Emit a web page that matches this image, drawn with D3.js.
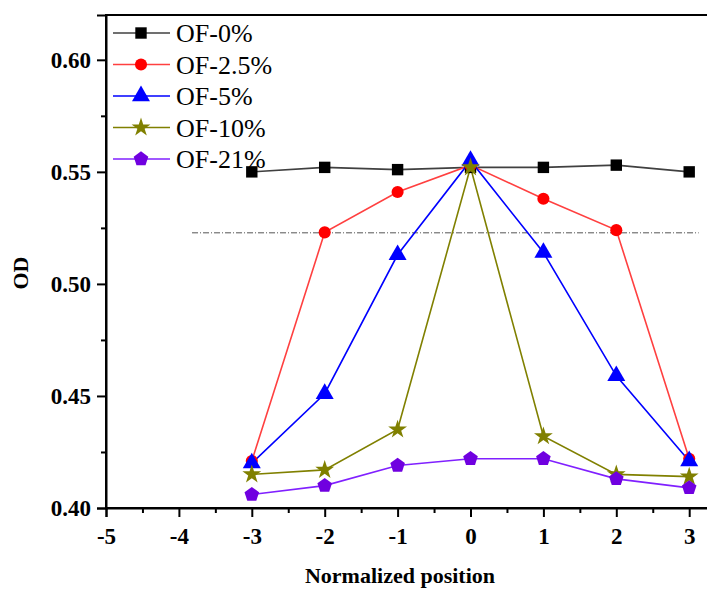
<!DOCTYPE html>
<html>
<head>
<meta charset="utf-8">
<script src="https://cdn.jsdelivr.net/npm/d3@7"></script>
<style>
  html, body { margin: 0; padding: 0; background: #fff; }
  svg { display: block; font-family: "Liberation Serif", "Times New Roman", serif; }
</style>
</head>
<body>
<svg id="chart" width="707" height="591"></svg>
<script>
// Normalized sample positions
const positions = [-3, -2, -1, 0, 1, 2, 3];

// Optical density per oxygen fraction
const od0   = [0.550, 0.552, 0.551, 0.552, 0.552, 0.553, 0.550];
const od2_5 = [0.421, 0.523, 0.541, 0.553, 0.538, 0.524, 0.422];
const od5   = [0.420, 0.451, 0.513, 0.555, 0.514, 0.459, 0.421];
const od10  = [0.415, 0.417, 0.435, 0.552, 0.432, 0.415, 0.414];
const od21  = [0.406, 0.410, 0.419, 0.422, 0.422, 0.413, 0.409];

const seriesNames = ["OF-0%", "OF-2.5%", "OF-5%", "OF-10%", "OF-21%"];
const seriesValues = [od0, od2_5, od5, od10, od21];

const xTicks = [-5, -4, -3, -2, -1, 0, 1, 2, 3];
const yTicks = [0.40, 0.45, 0.50, 0.55, 0.60];

// Reference level (dash-dot line)
const refLevel = 0.5228;
const refSpan = [-3.82, 3.13];

const markerColors = ["#000000", "#ff0000", "#0000ff", "#808000", "#7000e0"];
const lineColors   = ["#404040", "#ff4040", "#0000ff", "#808000", "#8020ff"];
const pentagon = {
  draw(ctx, size) {
    const r = Math.sqrt(size / 2.378);
    for (let i = 0; i < 5; i++) {
      const a = -Math.PI / 2 + i * 2 * Math.PI / 5;
      const px = r * Math.cos(a), py = r * Math.sin(a);
      if (i === 0) ctx.moveTo(px, py); else ctx.lineTo(px, py);
    }
    ctx.closePath();
  }
};
const symbols = [d3.symbolSquare, d3.symbolCircle, d3.symbolTriangle, d3.symbolStar, pentagon];
const symbolSizes = [130, 115, 140, 110, 140];

const svg = d3.select("#chart");
const mLeft = 106, mTop = 15, mBottom = 508;
const x = d3.scaleLinear().domain([-5, 3.5]).range([mLeft, mLeft + 8.5 * 72.9]);
const y = d3.scaleLinear().domain([0.40, 0.62]).range([mBottom, mTop]);

// Plain hyphen for negative tick labels
const xFmt = d => String(d);

// Frame
svg.append("rect")
  .attr("x", mLeft).attr("y", mTop)
  .attr("width", x(3.5) - mLeft).attr("height", mBottom - mTop)
  .attr("fill", "none").attr("stroke", "#000").attr("stroke-width", 2);

// X axis
svg.append("g").attr("transform", `translate(0,${mBottom})`)
  .call(d3.axisBottom(x).tickValues(xTicks).tickFormat(xFmt).tickSize(9).tickPadding(11));
svg.append("g").attr("transform", `translate(0,${mBottom})`)
  .call(d3.axisBottom(x).tickValues(d3.range(-4.5, 3.5, 1)).tickFormat("").tickSize(5))
  .call(g => g.select(".domain").remove());

// Y axis
svg.append("g").attr("transform", `translate(${mLeft},0)`)
  .call(d3.axisLeft(y).tickValues(yTicks).tickFormat(d3.format(".2f")).tickSize(9).tickPadding(6));
svg.append("g").attr("transform", `translate(${mLeft},0)`)
  .call(d3.axisLeft(y).tickValues([0.425, 0.475, 0.525, 0.575]).tickFormat("").tickSize(5))
  .call(g => g.select(".domain").remove());

svg.selectAll(".tick line").attr("stroke", "#000").attr("stroke-width", 2);
svg.selectAll(".domain").attr("stroke", "#000").attr("stroke-width", 2);
svg.selectAll(".tick text")
  .attr("fill", "#000")
  .style("font-family", "'Liberation Serif', serif")
  .style("font-size", "23px")
  .style("font-weight", "bold");

// Axis titles
svg.append("text")
  .attr("x", 400).attr("y", 583)
  .attr("text-anchor", "middle")
  .style("font-size", "22px").style("font-weight", "bold")
  .text("Normalized position");
svg.append("text")
  .attr("transform", `translate(28,273) rotate(-90)`)
  .attr("text-anchor", "middle")
  .style("font-size", "22px").style("font-weight", "bold")
  .text("OD");

// Reference line
svg.append("line")
  .attr("x1", x(refSpan[0])).attr("x2", x(refSpan[1]))
  .attr("y1", y(refLevel)).attr("y2", y(refLevel))
  .attr("stroke", "#555").attr("stroke-width", 1)
  .attr("stroke-dasharray", "6,2,1,2");

// Series
const line = d3.line().x((d, i) => x(positions[i])).y(d => y(d));
seriesValues.forEach((vals, s) => {
  svg.append("path")
    .datum(vals)
    .attr("d", line)
    .attr("fill", "none")
    .attr("stroke", lineColors[s])
    .attr("stroke-width", 1.6);
});
seriesValues.forEach((vals, s) => {
  svg.append("g").selectAll("path")
    .data(vals)
    .join("path")
    .attr("transform", (d, i) => `translate(${x(positions[i])},${y(d)})`)
    .attr("d", d3.symbol().type(symbols[s]).size(symbolSizes[s]))
    .attr("fill", markerColors[s]);
});

// Legend
const legend = svg.append("g");
seriesNames.forEach((name, s) => {
  const ly = 33 + s * 31.5;
  legend.append("line")
    .attr("x1", 113).attr("x2", 170).attr("y1", ly).attr("y2", ly)
    .attr("stroke", lineColors[s]).attr("stroke-width", 1.6);
  legend.append("path")
    .attr("transform", `translate(141,${ly})`)
    .attr("d", d3.symbol().type(symbols[s]).size(symbolSizes[s]))
    .attr("fill", markerColors[s]);
  legend.append("text")
    .attr("x", 176).attr("y", ly + 9)
    .style("font-size", "26px")
    .text(name);
});
</script>
</body>
</html>
